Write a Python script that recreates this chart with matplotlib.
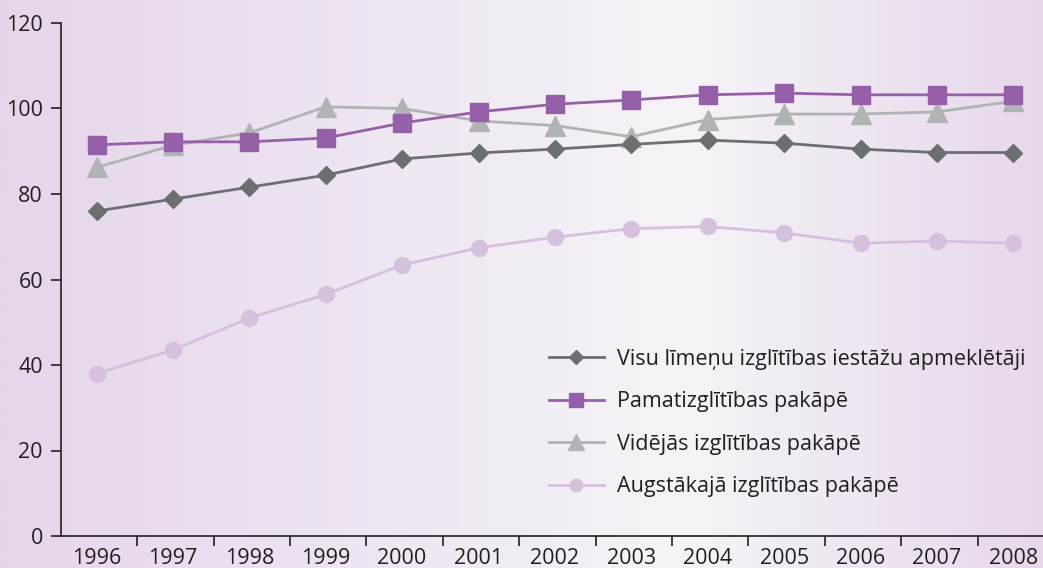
import numpy as np
import matplotlib
matplotlib.use("Agg")
import matplotlib.pyplot as plt
from matplotlib.colors import LinearSegmentedColormap

years = ["1996", "1997", "1998", "1999", "2000", "2001", "2002",
         "2003", "2004", "2005", "2006", "2007", "2008"]
visu = [76.0, 78.8, 81.6, 84.4, 88.2, 89.6, 90.5, 91.6, 92.6, 91.9, 90.5, 89.7, 89.7]
pamat = [91.5, 92.2, 92.2, 93.1, 96.6, 99.2, 101.0, 102.0, 103.2, 103.6, 103.2, 103.2, 103.2]
videj = [86.2, 91.4, 94.3, 100.4, 100.0, 97.1, 96.0, 93.4, 97.4, 98.7, 98.7, 99.2, 101.7]
augst = [38.0, 43.5, 51.0, 56.5, 63.4, 67.4, 69.9, 71.9, 72.4, 70.9, 68.5, 69.0, 68.5]

labels = ["Visu līmeņu izglītības iestāžu apmeklētāji",
          "Pamatizglītības pakāpē",
          "Vidējās izglītības pakāpē",
          "Augstākajā izglītības pakāpē"]

plt.rcParams['font.family'] = ['Open Sans', 'DejaVu Sans']

W, H = 1043, 568
fig = plt.figure(figsize=(W / 100, H / 100), dpi=100)

# background gradient
bg = fig.add_axes([0, 0, 1, 1], zorder=-10)
cmap = LinearSegmentedColormap.from_list(
    "bg", [(0.0, "#e5d6ea"), (0.66, "#f6f4f8"), (1.0, "#e6d8ea")])
grad = np.linspace(0, 1, 512).reshape(1, -1)
bg.imshow(grad, aspect="auto", cmap=cmap, extent=[0, 1, 0, 1])
bg.set_axis_off()

left_px, bottom_px, top_px = 61, 536, 23
first_px, step = 96.5, 76.4
ax = fig.add_axes([left_px / W, (H - bottom_px) / H, (W - left_px) / W,
                   (bottom_px - top_px) / H])
ax.patch.set_alpha(0)

x = np.arange(len(years))
c_visu, c_pamat, c_vid, c_aug = "#6d6e71", "#9660a8", "#b1b3b5", "#d5c0dd"
ax.plot(x, visu, color=c_visu, lw=2.0, marker="D", ms=9, mec=c_visu, label=labels[0], zorder=5)
ax.plot(x, pamat, color=c_pamat, lw=2.0, marker="s", ms=13.5, mec=c_pamat, label=labels[1], zorder=4)
ax.plot(x, videj, color=c_vid, lw=2.0, marker="^", ms=14, mec=c_vid, label=labels[2], zorder=3)
ax.plot(x, augst, color=c_aug, lw=2.0, marker="o", ms=11.5, mec=c_aug, label=labels[3], zorder=2)

xmin = -(first_px - left_px) / step
xmax = (W - first_px) / step
ax.set_yticks([0, 20, 40, 60, 80, 100, 120])
ax.set_xticks(x)
ax.set_xticklabels(years)
ax.set_xticks(np.arange(len(years) - 1) + 0.534, minor=True)
ax.set_ylim(0, 120)
ax.set_xlim(xmin, xmax)
ax.tick_params(axis="x", which="major", length=0, pad=8.5, labelsize=15.5, labelcolor="#231f20")
ax.tick_params(axis="x", which="minor", length=7, width=1.2, color="#231f20", direction="out")
ax.tick_params(axis="y", length=7, width=1.2, color="#231f20", labelsize=15.5,
               labelcolor="#231f20", pad=6)
for s in ["top", "right"]:
    ax.spines[s].set_visible(False)
for s in ["left", "bottom"]:
    ax.spines[s].set_color("#231f20")
    ax.spines[s].set_linewidth(1.2)

leg = ax.legend(loc="upper left", bbox_to_anchor=(538 / W, 1 - 338 / H),
                bbox_transform=fig.transFigure, frameon=False, fontsize=15.5,
                handlelength=2.55, handletextpad=0.6, labelspacing=1.0,
                borderpad=0, markerscale=0.78)
for t in leg.get_texts():
    t.set_color("#231f20")

fig.savefig("out.png", dpi=100)
